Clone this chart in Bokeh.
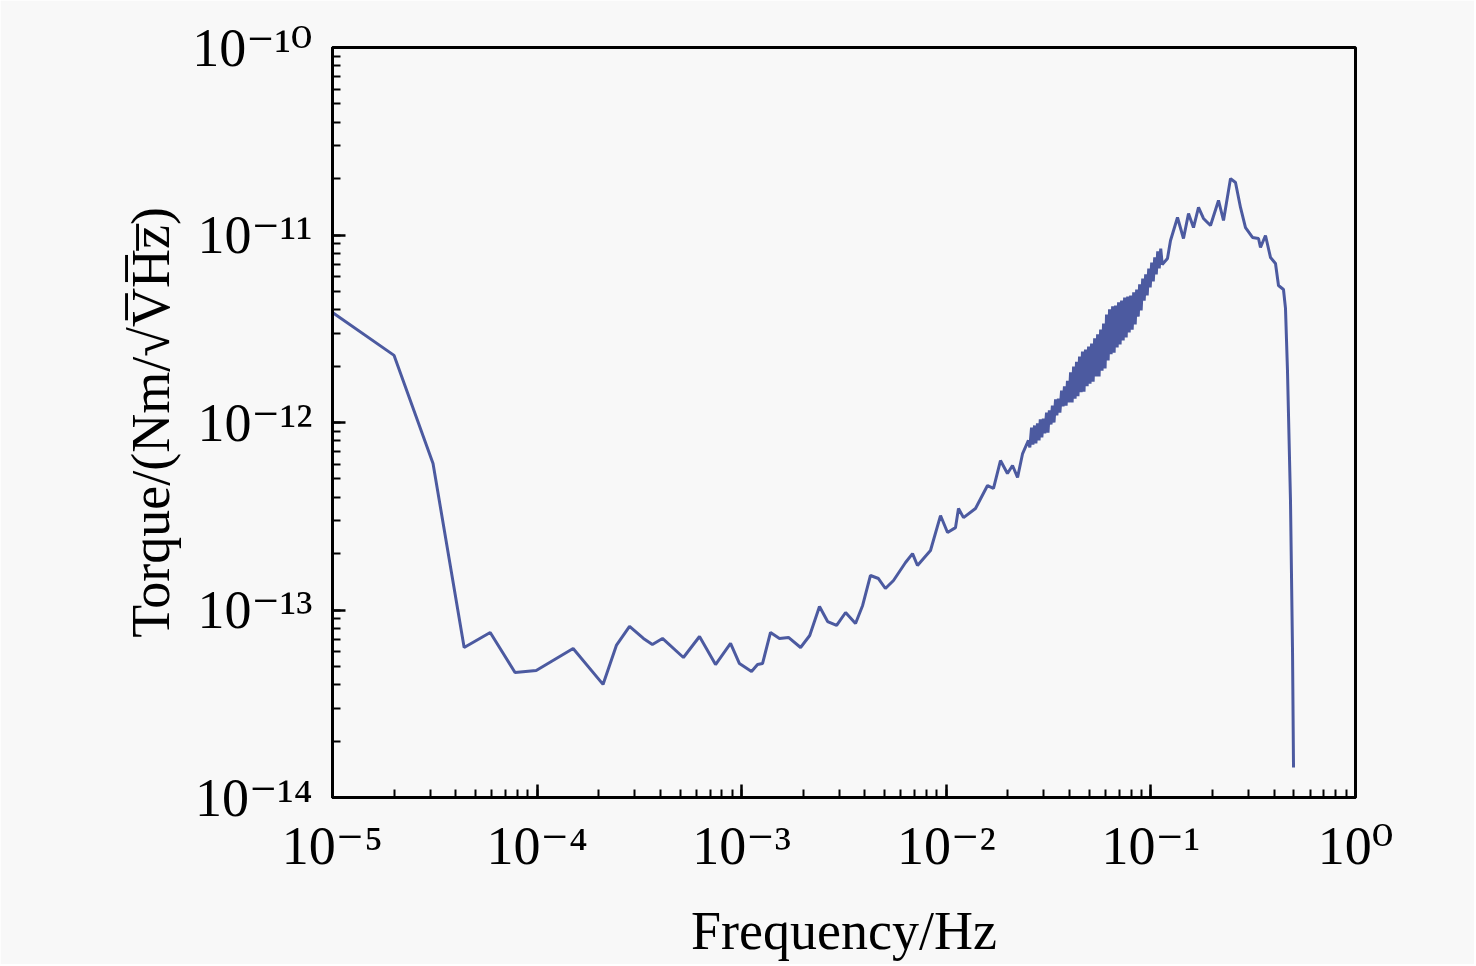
from bokeh.plotting import figure
from bokeh.models import CustomJSTickFormatter, LogTicker
from bokeh.embed import file_html
from bokeh.resources import INLINE

# torque noise spectrum
freq = [1.0e-5, 2.0e-5, 3.1e-5, 4.4e-5, 5.9e-5, 7.8e-5, 9.9e-5, 1.5e-4, 2.1e-4, 2.44e-4,
        2.83e-4, 3.31e-4, 3.66e-4, 4.10e-4, 5.19e-4, 6.22e-4, 7.45e-4, 8.82e-4, 9.75e-4, 1.117e-3,
        1.195e-3, 1.264e-3, 1.383e-3, 1.53e-3, 1.693e-3, 1.94e-3, 2.15e-3, 2.40e-3, 2.63e-3, 2.91e-3,
        3.22e-3, 3.60e-3, 3.90e-3, 4.26e-3, 4.66e-3, 5.04e-3, 5.52e-3, 6.32e-3, 6.84e-3, 7.23e-3,
        8.37e-3, 9.37e-3, 1.014e-2, 1.109e-2, 1.147e-2, 1.214e-2, 1.389e-2, 1.590e-2, 1.701e-2, 1.84e-2,
        1.99e-2, 2.107e-2, 2.23e-2, 2.36e-2, 2.52e-2]
torque = [3.86e-12, 2.28e-12, 6.04e-13, 6.31e-14, 7.59e-14, 4.64e-14, 4.76e-14, 6.23e-14, 4.01e-14, 6.47e-14,
          8.17e-14, 7.05e-14, 6.55e-14, 7.05e-14, 5.58e-14, 7.22e-14, 5.12e-14, 6.63e-14, 5.18e-14, 4.70e-14,
          5.12e-14, 5.18e-14, 7.59e-14, 7.05e-14, 7.14e-14, 6.31e-14, 7.31e-14, 1.044e-13, 8.68e-14, 8.27e-14,
          9.70e-14, 8.47e-14, 1.057e-13, 1.528e-13, 1.472e-13, 1.302e-13, 1.436e-13, 1.792e-13, 2.0e-13, 1.727e-13,
          2.076e-13, 3.19e-13, 2.59e-13, 2.75e-13, 3.48e-13, 3.11e-13, 3.48e-13, 4.61e-13, 4.45e-13, 6.27e-13,
          5.35e-13, 5.90e-13, 5.09e-13, 6.83e-13, 8.02e-13]

# dense, noisy band between 0.025 and 0.115 Hz
freq_dense = [0.0256, 0.0261, 0.0265, 0.0270, 0.0274, 0.0279, 0.0284, 0.0288, 0.0293, 0.0298,
              0.0303, 0.0309, 0.0314, 0.0319, 0.0325, 0.0330, 0.0336, 0.0342, 0.0347, 0.0353,
              0.0359, 0.0366, 0.0372, 0.0378, 0.0385, 0.0391, 0.0398, 0.0405, 0.0412, 0.0419,
              0.0426, 0.0433, 0.0440, 0.0448, 0.0456, 0.0463, 0.0471, 0.0479, 0.0488, 0.0496,
              0.0504, 0.0513, 0.0522, 0.0531, 0.0540, 0.0549, 0.0558, 0.0568, 0.0577, 0.0587,
              0.0597, 0.0607, 0.0618, 0.0628, 0.0639, 0.0650, 0.0661, 0.0672, 0.0684, 0.0695,
              0.0707, 0.0719, 0.0732, 0.0744, 0.0757, 0.0770, 0.0783, 0.0796, 0.0810, 0.0824,
              0.0838, 0.0852, 0.0867, 0.0881, 0.0896, 0.0912, 0.0927, 0.0943, 0.0959, 0.0976,
              0.0992, 0.1009, 0.1027, 0.1044, 0.1062, 0.1080, 0.1098, 0.1117, 0.1136]
torque_dense = [7.36e-13, 9.40e-13, 7.63e-13, 9.64e-13, 7.73e-13, 9.88e-13, 8.02e-13, 1.04e-12, 8.32e-13, 1.05e-12,
                8.74e-13, 1.13e-12, 8.84e-13, 1.16e-12, 9.76e-13, 1.23e-12, 1.0e-12, 1.33e-12, 1.09e-12, 1.34e-12,
                1.13e-12, 1.48e-12, 1.22e-12, 1.56e-12, 1.23e-12, 1.67e-12, 1.28e-12, 1.85e-12, 1.28e-12, 1.99e-12,
                1.34e-12, 2.11e-12, 1.38e-12, 2.25e-12, 1.45e-12, 2.39e-12, 1.46e-12, 2.45e-12, 1.56e-12, 2.54e-12,
                1.61e-12, 2.64e-12, 1.65e-12, 2.81e-12, 1.76e-12, 2.95e-12, 1.76e-12, 3.13e-12, 1.89e-12, 3.37e-12,
                1.94e-12, 3.77e-12, 2.14e-12, 4.01e-12, 2.31e-12, 4.16e-12, 2.36e-12, 4.21e-12, 2.51e-12, 4.37e-12,
                2.61e-12, 4.47e-12, 2.74e-12, 4.64e-12, 2.84e-12, 4.70e-12, 3.02e-12, 4.76e-12, 3.13e-12, 4.94e-12,
                3.33e-12, 5.12e-12, 3.67e-12, 5.45e-12, 3.96e-12, 5.86e-12, 4.47e-12, 6.16e-12, 4.76e-12, 6.63e-12,
                5.25e-12, 7.13e-12, 5.65e-12, 7.59e-12, 6.16e-12, 8.17e-12, 6.63e-12, 8.47e-12, 6.96e-12]

# peak and roll-off up to Nyquist
freq_top = [0.1205, 0.1247, 0.1349, 0.1443, 0.1527, 0.1615, 0.1709, 0.1807, 0.1956, 0.2140,
            0.2264, 0.2450, 0.2591, 0.2741, 0.2900, 0.3138, 0.3357, 0.3433, 0.3631, 0.3842,
            0.4064, 0.4204, 0.4446, 0.4548, 0.4651, 0.4811, 0.4922, 0.4978]
torque_top = [7.49e-12, 9.35e-12, 1.240e-11, 9.58e-12, 1.302e-11, 1.096e-11, 1.402e-11, 1.225e-11, 1.124e-11, 1.528e-11,
              1.195e-11, 2.0e-11, 1.905e-11, 1.402e-11, 1.096e-11, 9.70e-12, 9.58e-12, 8.58e-12, 9.94e-12, 7.59e-12,
              7.05e-12, 5.38e-12, 5.12e-12, 4.06e-12, 1.894e-12, 3.84e-13, 6.08e-14, 1.445e-14]

bg = "#f8f8f8"
font = "Liberation Serif, DejaVu Serif"

p = figure(width=1474, height=964, x_axis_type="log", y_axis_type="log",
           x_range=(1e-5, 1), y_range=(1e-14, 1e-10),
           output_backend="svg", toolbar_location=None,
           min_border_left=332, min_border_right=119,
           min_border_top=47, min_border_bottom=167,
           background_fill_color=bg, border_fill_color=bg)

p.line(freq + freq_dense + freq_top, torque + torque_dense + torque_top,
       line_color="#4c5aa0", line_width=3)

p.xgrid.visible = False
p.ygrid.visible = False
p.outline_line_color = "black"
p.outline_line_width = 3

sup_code = """
const sup = {"-": "\\u207b", "0": "\\u2070", "1": "\\u00b9", "2": "\\u00b2", "3": "\\u00b3",
             "4": "\\u2074", "5": "\\u2075", "6": "\\u2076", "7": "\\u2077", "8": "\\u2078", "9": "\\u2079"};
const e = Math.round(Math.log10(tick));
return "10" + String(e).split("").map((c) => sup[c]).join("");
"""

for ax in (p.xaxis[0], p.yaxis[0]):
    ax.ticker = LogTicker(num_minor_ticks=10)
    ax.formatter = CustomJSTickFormatter(code=sup_code)
    ax.axis_line_width = 3
    ax.axis_line_color = "black"
    ax.major_tick_in = 13
    ax.major_tick_out = 0
    ax.minor_tick_in = 8
    ax.minor_tick_out = 0
    ax.major_tick_line_width = 2.5
    ax.minor_tick_line_width = 2
    ax.major_tick_line_color = "black"
    ax.minor_tick_line_color = "black"
    ax.major_label_text_font = font
    ax.major_label_text_font_size = "54px"
    ax.major_label_text_color = "black"
    ax.axis_label_text_font = font
    ax.axis_label_text_font_size = "54px"
    ax.axis_label_text_font_style = "normal"
    ax.axis_label_text_color = "black"

p.xaxis.axis_label = "Frequency/Hz"
p.xaxis.major_label_standoff = 18
p.xaxis.axis_label_standoff = 22
p.yaxis.axis_label = "Torque/(Nm/\u221aV\u0305H\u0305z\u0305)"
p.yaxis.major_label_standoff = 20
p.yaxis.axis_label_standoff = 8

html = file_html(p, INLINE)
html = html.replace("<body>", '<body style="background-color:%s;">' % bg, 1)
open("out.html", "w").write(html)
